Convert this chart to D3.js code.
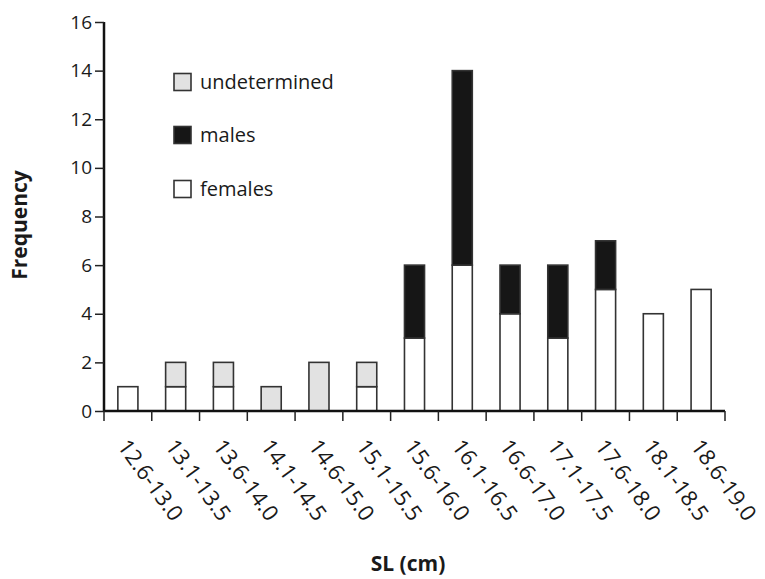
<!DOCTYPE html>
<html><head><meta charset="utf-8">
<script src="https://cdn.jsdelivr.net/npm/d3@7"></script>
<style>body{margin:0;background:#fff}svg{display:block}</style>
</head><body>
<svg id="c" width="765" height="579"></svg>
<script>
const categories = ["12.6-13.0","13.1-13.5","13.6-14.0","14.1-14.5","14.6-15.0","15.1-15.5","15.6-16.0","16.1-16.5","16.6-17.0","17.1-17.5","17.6-18.0","18.1-18.5","18.6-19.0"];
const females      = [1,1,1,0,0,1,3,6,4,3,5,4,5];
const males        = [0,0,0,0,0,0,3,8,2,3,2,0,0];
const undetermined = [0,1,1,1,2,1,0,0,0,0,0,0,0];
const seriesNames  = ["females","males","undetermined"];
const yTicks = [0,2,4,6,8,10,12,14,16];
const legendOrder = ["undetermined","males","females"];

const colors = {females:"#ffffff", males:"#161616", undetermined:"#e2e2e2"};
const font = "'Open Sans', sans-serif";
const txt = "#1a1a1a";
const svg = d3.select("#c");
const m = {l:104, r:40, t:22, b:168};
const x = d3.scaleBand().domain(categories).range([m.l, 725]).paddingInner(0.58).paddingOuter(0.29);
const y = d3.scaleLinear().domain([0,16]).range([411, 22]);

const table = categories.map((c,i)=>({cat:c, females:females[i], males:males[i], undetermined:undetermined[i]}));
const stacked = d3.stack().keys(seriesNames)(table);

const g = svg.append("g");
stacked.forEach(s=>{
  g.append("g").selectAll("rect").data(s.filter(d=>d[1]-d[0]>0)).join("rect")
    .attr("x", d=>x(d.data.cat))
    .attr("width", x.bandwidth())
    .attr("y", d=>y(d[1]))
    .attr("height", d=>y(d[0])-y(d[1]))
    .attr("fill", colors[s.key])
    .attr("stroke", "#333")
    .attr("stroke-width", 1.6);
});

// y axis
const ya = svg.append("g").attr("transform",`translate(${m.l},0)`)
  .call(d3.axisLeft(y).tickValues(yTicks).tickSize(9).tickPadding(3));
ya.select(".domain").attr("stroke","#111").attr("stroke-width",2.5).attr("d",`M0,${y(16)}V${y(0)}`);
ya.selectAll(".tick line").attr("stroke","#222").attr("stroke-width",1.5);
ya.selectAll("text").attr("font-family",font).attr("font-size",19).attr("fill",txt);

// x axis: ticks at band boundaries
const bounds = d3.range(categories.length+1).map(i=>m.l + i*(725-m.l)/categories.length);
const xg = svg.append("g");
xg.append("line").attr("x1",m.l).attr("x2",725).attr("y1",411).attr("y2",411).attr("stroke","#111").attr("stroke-width",2.5);
xg.selectAll("line.t").data(bounds).join("line").attr("class","t")
  .attr("x1",d=>d).attr("x2",d=>d).attr("y1",411).attr("y2",421).attr("stroke","#222").attr("stroke-width",1.5);
xg.selectAll("text").data(categories).join("text")
  .attr("transform", d=>`translate(${x(d)+x.bandwidth()/2-5},${442}) rotate(54)`)
  .attr("font-family",font).attr("font-size",22).attr("fill",txt)
  .attr("dy","0.35em")
  .text(d=>d);

svg.append("text").attr("x",408).attr("y",571).attr("text-anchor","middle")
  .attr("font-family",font).attr("font-weight","bold").attr("font-size",21).attr("fill",txt).text("SL (cm)");
svg.append("text").attr("transform","translate(27,225) rotate(-90)").attr("text-anchor","middle")
  .attr("font-family",font).attr("font-weight","bold").attr("font-size",21).attr("fill",txt).text("Frequency");

// legend
const lg = svg.append("g");
const ly = {undetermined:82, males:135, females:189};
legendOrder.forEach(k=>{
  lg.append("rect").attr("x",174).attr("y",ly[k]-8.5).attr("width",17).attr("height",17)
    .attr("fill",colors[k]).attr("stroke","#333").attr("stroke-width",1.6);
  lg.append("text").attr("x",200).attr("y",ly[k]).attr("dy","0.35em")
    .attr("font-family",font).attr("font-size",20).attr("fill",txt).text(k);
});
</script>
</body></html>
